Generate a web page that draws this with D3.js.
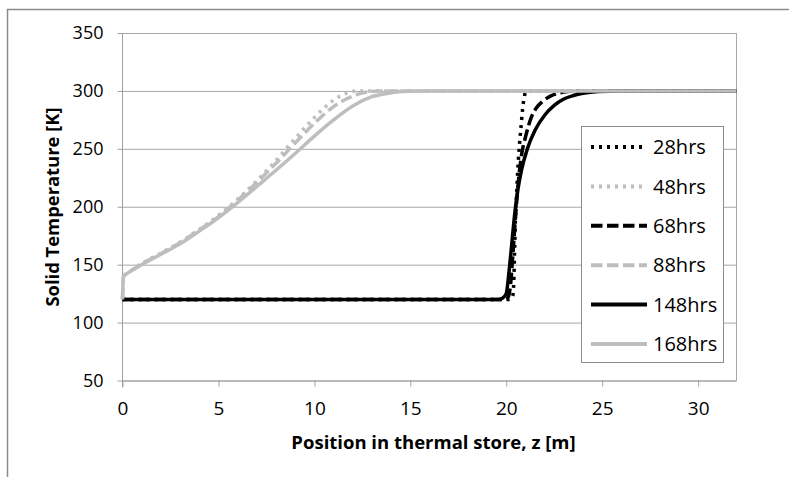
<!DOCTYPE html>
<html>
<head>
<meta charset="utf-8">
<script src="https://cdn.jsdelivr.net/npm/d3@7"></script>
<style>
  body { margin: 0; background: #fff; }
  text { font-family: "Open Sans", sans-serif; fill: #000; }
</style>
</head>
<body>
<script>
// series: [z in m, solid temperature in K]
var s28 = [[0,120],[20.15,120],[20.28,121.5],[20.36,125],[20.4,140],[20.44,165],[20.48,190],[20.55,215],[20.63,240],[20.7,256],[20.77,269],[20.85,284],[20.92,293],[21.0,298.5],[21.15,300],[32,300]];
var s48 = [[0,120],[0.05,140],[0.25,142.5],[1,151],[2,160],[3,169.5],[4,180.5],[5,192.5],[6,206.5],[7,222.5],[8,240],[9,259],[10,277],[11,292],[11.6,297.5],[12.2,300],[32,300]];
var s68 = [[0,120],[19.95,120],[20.1,122],[20.22,132],[20.35,160],[20.5,195],[20.65,225],[20.8,245],[21,260],[21.3,277],[21.6,286],[21.9,291],[22.3,295.5],[22.7,298],[23.2,299.5],[23.7,300],[32,300]];
var s88 = [[0,120],[0.05,140],[0.25,142.5],[1,150.5],[2,159.5],[3,169],[4,180],[5,191.5],[6,205.5],[7,221],[8,237.5],[9,255],[10,272],[11,286.5],[12,295.5],[12.8,299.3],[13.5,300],[32,300]];
var s148 = [[0,120],[19.6,120],[19.8,121],[20,125],[20.15,145],[20.3,170],[20.45,195],[20.6,214],[20.8,232],[21.1,250],[21.5,266],[22,279],[22.5,287.5],[23,293],[23.5,296],[24,298],[24.8,299.5],[26,300],[32,300]];
var s168 = [[0,120],[0.05,140],[0.25,142.5],[1,150],[2,159],[3,168],[4,179],[5,190.5],[6,203.5],[7,217.5],[8,231.5],[9,246],[10,261],[11,275],[12,287],[13,295],[14,298.5],[15,299.7],[16,300],[32,300]];

var seriesNames = ['28hrs', '48hrs', '68hrs', '88hrs', '148hrs', '168hrs'];
var seriesData = [s28, s48, s68, s88, s148, s168];
var xTicks = [0, 5, 10, 15, 20, 25, 30];
var yTicks = [50, 100, 150, 200, 250, 300, 350];

// line styles, same order as the series
var black = '#000', grey = '#bebebe';
var styles = [
  { color: black, dash: '3,5' },
  { color: grey, dash: '3,5' },
  { color: black, dash: '11.5,4.5' },
  { color: grey, dash: '11.5,4.5' },
  { color: black, dash: null },
  { color: grey, dash: null }
];

var W = 789, H = 477;
var mLeft = 122.5, mRight = 736.5, mTop = 33, mBottom = 380.5;

var svg = d3.select('body').append('svg').attr('width', W).attr('height', H);

// outer frame of the figure
svg.append('path')
  .attr('d', 'M7.5,' + H + 'V9.5H' + W)
  .attr('fill', 'none').attr('stroke', '#8c8c8c').attr('stroke-width', 1.5);

var x = d3.scaleLinear().domain([0, 32]).range([mLeft, mRight]);
var y = d3.scaleLinear().domain([50, 350]).range([mBottom, mTop]);

// horizontal gridlines
svg.append('g')
  .attr('transform', 'translate(' + mLeft + ',0)')
  .call(d3.axisLeft(y).tickValues(yTicks).tickSize(-(mRight - mLeft)).tickFormat(''))
  .call(function(g) {
    g.select('.domain').remove();
    g.selectAll('line').attr('stroke', '#a8a8a8');
  });

// right border of plot area
svg.append('line')
  .attr('x1', mRight).attr('x2', mRight).attr('y1', mTop).attr('y2', mBottom)
  .attr('stroke', '#a8a8a8');

// y axis
svg.append('g')
  .attr('transform', 'translate(' + mLeft + ',0)')
  .call(d3.axisLeft(y).tickValues(yTicks).tickSize(5).tickPadding(14))
  .call(function(g) {
    g.select('.domain').attr('stroke', '#a0a0a0').attr('d', 'M0,' + mTop + 'V' + (mBottom + 7));
    g.selectAll('line').attr('stroke', '#a0a0a0');
    g.selectAll('text').style('font-size', '18px').attr('fill', '#000');
  });

// x axis
svg.append('g')
  .attr('transform', 'translate(0,' + mBottom + ')')
  .call(d3.axisBottom(x).tickValues(xTicks).tickSize(6).tickPadding(15).tickSizeOuter(0))
  .call(function(g) {
    g.select('.domain').attr('stroke', '#a0a0a0');
    g.selectAll('line').attr('stroke', '#a0a0a0');
    g.selectAll('text').style('font-size', '19px').attr('fill', '#000');
  });

// axis titles
svg.append('text')
  .attr('x', (mLeft + mRight) / 2 + 4).attr('y', 449)
  .attr('text-anchor', 'middle')
  .style('font-size', '18.5px').style('font-weight', 'bold')
  .text('Position in thermal store, z [m]');

svg.append('text')
  .attr('transform', 'translate(59,207) rotate(-90)')
  .attr('text-anchor', 'middle')
  .style('font-size', '18.4px').style('font-weight', 'bold')
  .text('Solid Temperature [K]');

// curves
var line = d3.line()
  .x(function(d) { return x(d[0]); })
  .y(function(d) { return y(d[1]); })
  .curve(d3.curveMonotoneX);

svg.append('g').selectAll('path')
  .data(seriesData)
  .enter()
  .append('path')
  .attr('d', line)
  .attr('fill', 'none')
  .attr('stroke', function(d, i) { return styles[i].color; })
  .attr('stroke-width', 3.5)
  .attr('stroke-dasharray', function(d, i) { return styles[i].dash; });

// legend
var legend = svg.append('g');
legend.append('rect')
  .attr('x', 581.5).attr('y', 126.5).attr('width', 142).attr('height', 236)
  .attr('fill', '#fff').attr('stroke', '#8c8c8c');

var items = legend.selectAll('g.item')
  .data(seriesNames)
  .enter()
  .append('g')
  .attr('class', 'item')
  .attr('transform', function(d, i) { return 'translate(0,' + (147 + i * 39.4) + ')'; });

items.append('line')
  .attr('x1', 591).attr('x2', 647)
  .attr('stroke', function(d, i) { return styles[i].color; })
  .attr('stroke-width', 4)
  .attr('stroke-dasharray', function(d, i) { return styles[i].dash; });

items.append('text')
  .attr('x', 653).attr('dy', '0.36em')
  .style('font-size', '20px')
  .text(function(d) { return d; });
</script>
</body>
</html>
